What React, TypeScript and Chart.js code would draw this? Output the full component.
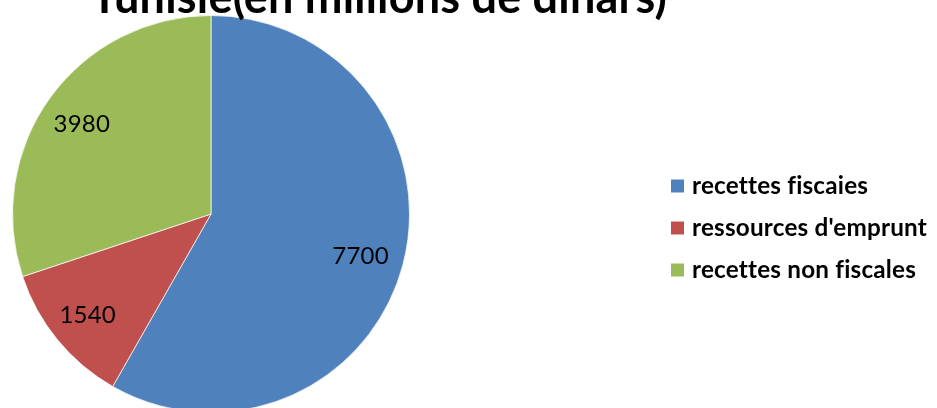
import React, { useEffect, useRef } from "react";
import { Chart, registerables } from "chart.js";

Chart.register(...registerables);

const titleText = "Tunisie(en millions de dinars)";
const categories = ["recettes fiscaies", "ressources d'emprunt", "recettes non fiscales"];
const values = [7700, 1540, 3980];
const colors = ["#4F81BD", "#C0504D", "#9BBB59"];

const W = 937;
const H = 440;

const overlayPlugin = {
  id: "overlay",
  afterDraw(chart: any) {
    const ctx = chart.ctx as any;
    const meta = chart.getDatasetMeta(0);
    ctx.save();
    ctx.letterSpacing = "0.2px";
    // data labels
    ctx.font = "24px Lato";
    ctx.fillStyle = "#000";
    ctx.textAlign = "center";
    ctx.textBaseline = "middle";
    meta.data.forEach((arc: any, i: number) => {
      const p = arc.getProps(["x", "y", "startAngle", "endAngle", "outerRadius"], true);
      const mid = (p.startAngle + p.endAngle) / 2;
      const r = p.outerRadius * 0.79;
      ctx.fillText(String(values[i]), p.x + Math.cos(mid) * r - 2, p.y + Math.sin(mid) * r + 2);
    });
    // title
    ctx.font = "bold 34px Lato";
    let tw = ctx.measureText(titleText).width;
    const tsize = 34 * (578 / tw);
    ctx.font = `bold ${tsize}px Lato`;
    ctx.textAlign = "center";
    ctx.textBaseline = "alphabetic";
    ctx.fillText(titleText, 379, 13);
    // legend
    ctx.font = "bold 20px Lato";
    const lw = ctx.measureText(categories[1]).width;
    const lsize = 20 * (236 / lw);
    ctx.font = `bold ${lsize}px Lato`;
    ctx.textAlign = "left";
    ctx.textBaseline = "middle";
    categories.forEach((c, i) => {
      const cy = 186 + i * 42;
      ctx.fillStyle = colors[i];
      ctx.fillRect(671, cy - 6.5, 13, 13);
      ctx.fillStyle = "#000";
      ctx.fillText(c, 692, cy);
    });
    ctx.restore();
  },
};

export default function App() {
  const ref = useRef<HTMLCanvasElement>(null);
  useEffect(() => {
    if (!ref.current) return;
    const chart = new Chart(ref.current, {
      type: "pie",
      data: {
        labels: categories,
        datasets: [
          {
            data: values,
            backgroundColor: colors,
            borderColor: "rgba(255,255,255,0.7)",
            borderWidth: 1,
          },
        ],
      },
      options: {
        responsive: false,
        animation: false,
        layout: { padding: { left: 12, right: 527, top: 15, bottom: 27 } },
        plugins: {
          legend: { display: false },
          title: { display: false },
          tooltip: { enabled: false },
        },
      },
      plugins: [overlayPlugin],
    });
    return () => chart.destroy();
  }, []);
  return (
    <div style={{ position: "absolute", left: 0, top: 0, width: W, height: 408, overflow: "hidden", background: "#fff" }}>
      <canvas ref={ref} width={W} height={H} style={{ width: W, height: H, display: "block" }} />
    </div>
  );
}
